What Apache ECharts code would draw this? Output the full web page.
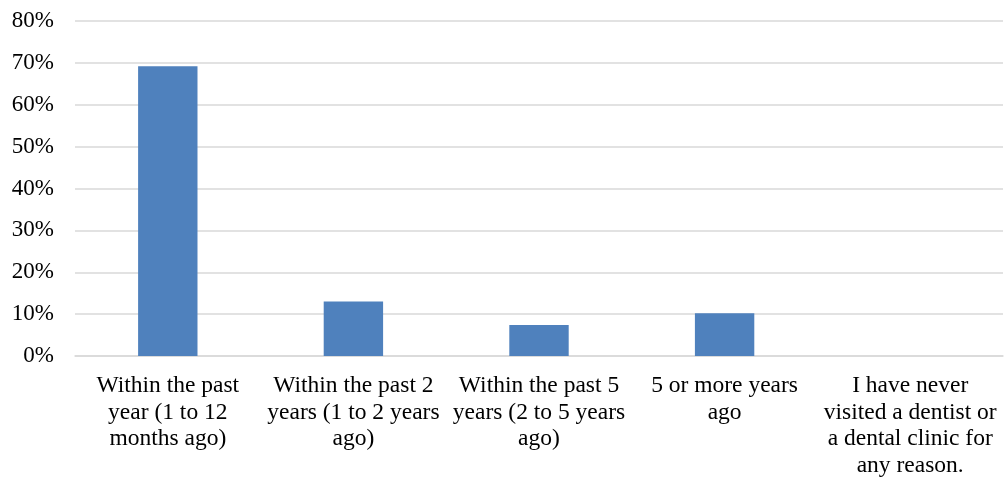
<!DOCTYPE html>
<html>
<head>
<meta charset="utf-8">
<script src="https://cdn.jsdelivr.net/npm/echarts@6/dist/echarts.min.js"></script>
<style>html,body{margin:0;padding:0;background:#fff;}#c{width:1005px;height:479px;}</style>
</head>
<body>
<div id="c"></div>
<script>
const categories = [
  "Within the past\nyear (1 to 12\nmonths ago)",
  "Within the past 2\nyears (1 to 2 years\nago)",
  "Within the past 5\nyears (2 to 5 years\nago)",
  "5 or more years\nago",
  "I have never\nvisited a dentist or\na dental clinic for\nany reason."
];
const values = [69.2, 13.0, 7.4, 10.2, 0];
const yTicks = [0, 10, 20, 30, 40, 50, 60, 70, 80];

const chart = echarts.init(document.getElementById('c'), null, {renderer: 'canvas'});
chart.setOption({
  animation: false,
  grid: {left: 75, right: 2, top: 21, bottom: 122, containLabel: false},
  xAxis: {
    type: 'category',
    data: categories,
    axisLine: {show: true, lineStyle: {color: '#d9d9d9', width: 1.5}},
    axisTick: {show: false},
    axisLabel: {
      interval: 0,
      margin: 17,
      color: '#000',
      fontFamily: '"Liberation Serif", "Times New Roman", serif',
      fontSize: 23.5,
      lineHeight: 26.5,
      align: 'center'
    }
  },
  yAxis: {
    type: 'value',
    min: yTicks[0],
    max: yTicks[yTicks.length - 1],
    interval: 10,
    axisLine: {show: false},
    axisTick: {show: false},
    splitLine: {lineStyle: {color: '#d9d9d9', width: 1.5}},
    axisLabel: {
      margin: 21,
      color: '#000',
      fontFamily: '"Liberation Serif", "Times New Roman", serif',
      fontSize: 23,
      verticalAlign: 'middle',
      padding: [4, 0, 0, 0],
      formatter: v => v + '%'
    }
  },
  series: [{
    type: 'bar',
    data: values,
    barWidth: '32%',
    itemStyle: {color: '#4f81bd'}
  }]
});
</script>
</body>
</html>
